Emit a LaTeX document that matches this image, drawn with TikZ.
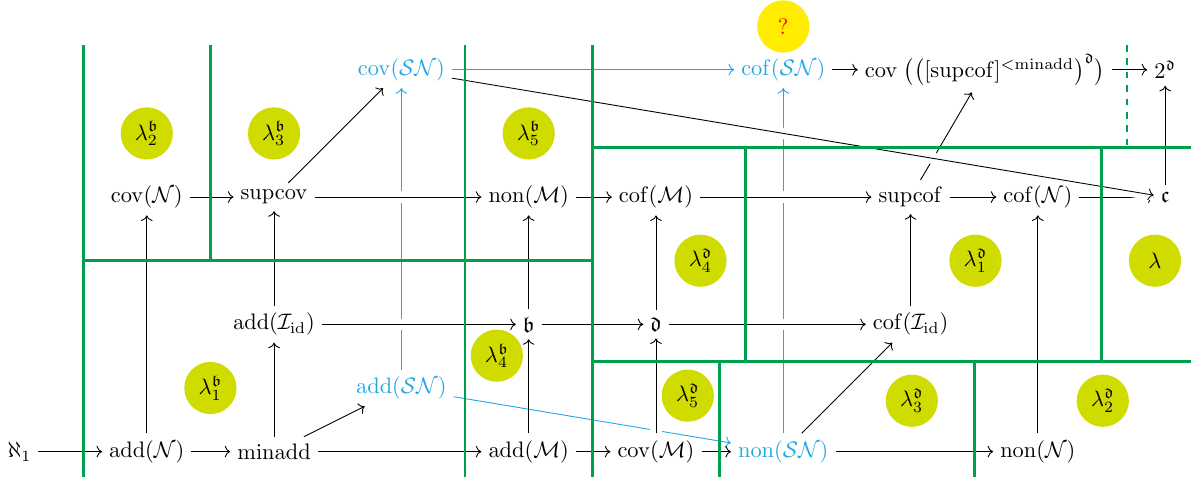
\documentclass[tikz,border=0pt]{standalone}
\usepackage{xcolor}
\usepackage{tikz}
\usepackage{amsmath,amssymb}
\usetikzlibrary{arrows.meta}
\definecolor{wallGreen}{HTML}{009F4D}
\definecolor{snBlue}{HTML}{22A7E6}
\definecolor{lamFill}{HTML}{D0DC00}
\definecolor{askFill}{HTML}{FFEC00}
\tikzset{
  val/.style={inner sep=3pt},
  snval/.style={val, text=snBlue},
  lam/.style={circle, fill=lamFill, minimum size=0.82cm, inner sep=0pt},
  ask/.style={lam, fill=askFill, text=red},
  arr/.style={->, >={To}},
  snarr/.style={arr, draw=snBlue},
  over/.style={preaction={-, draw=white, line width=5pt}},
  wall/.style={draw=wallGreen, line width=1.3pt}
}

\begin{document}
\begin{tikzpicture}[x=2cm,y=2cm]
  \useasboundingbox (-0.153,-0.227) rectangle (9.258,3.548);

  % bottom row
  \node[val] (aleph) at (0,0) {$\aleph_1$};
  \node[val] (addN) at (1,0) {$\mathrm{add}(\mathcal N)$};
  \node[val] (minadd) at (2,0) {$\mathrm{minadd}$};
  \node[snval] (addSN) at (3,0.5) {$\mathrm{add}(\mathcal{SN})$};
  \node[val] (addM) at (4,0) {$\mathrm{add}(\mathcal M)$};
  \node[val] (covM) at (5,0) {$\mathrm{cov}(\mathcal M)$};
  \node[snval] (nonSN) at (6,0) {$\mathrm{non}(\mathcal{SN})$};
  \node[val] (nonN) at (8,0) {$\mathrm{non}(\mathcal N)$};
  % second row
  \node[val] (addI) at (2,1) {$\mathrm{add}(\mathcal I_{\mathrm{id}})$};
  \node[val] (bb) at (4,1) {$\mathfrak b$};
  \node[val] (dd) at (5,1) {$\mathfrak d$};
  \node[val] (cofI) at (7,1) {$\mathrm{cof}(\mathcal I_{\mathrm{id}})$};
  % third row
  \node[val] (covN) at (1,2) {$\mathrm{cov}(\mathcal N)$};
  \node[val] (supcov) at (2,2) {$\mathrm{supcov}$};
  \node[val] (nonM) at (4,2) {$\mathrm{non}(\mathcal M)$};
  \node[val] (cofM) at (5,2) {$\mathrm{cof}(\mathcal M)$};
  \node[val] (supcof) at (7,2) {$\mathrm{supcof}$};
  \node[val] (cofN) at (8,2) {$\mathrm{cof}(\mathcal N)$};
  \node[val] (cc) at (9,2) {$\mathfrak c$};
  % top row
  \node[snval] (covSN) at (3,3) {$\mathrm{cov}(\mathcal{SN})$};
  \node[snval] (cofSN) at (6,3) {$\mathrm{cof}(\mathcal{SN})$};
  \node[val] (covsup) at (7.585,3)
    {$\mathrm{cov}\;\bigl(\bigl([\mathrm{supcof}]^{<\mathrm{minadd}}\bigr)^{\mathfrak d}\bigr)$};
  \node[val] (twod) at (9,3) {$2^{\mathfrak d}$};

  % strong measure zero arrows
  \draw[snarr] (covSN) -- (cofSN);
  \draw[snarr] (addSN) -- (covSN);
  \draw[snarr] (addSN) -- (nonSN);
  \draw[snarr] (nonSN) -- (cofSN);

  \draw[arr] (supcof) -- (covsup);
  \draw[arr] (cofN) -- (cc);

  % arrows crossing over others
  \draw[arr,over] (addI) -- (bb);
  \draw[arr,over] (supcov) -- (nonM);
  \draw[arr,over] (covM) -- (dd);
  \draw[arr,over] (dd) -- (cofI);
  \draw[arr,over] (cofM) -- (supcof);
  \draw[arr,over] (covSN) -- (cc);

  \draw[arr] (aleph) -- (addN);
  \draw[arr] (addN) -- (minadd);
  \draw[arr] (minadd) -- (addM);
  \draw[arr] (addM) -- (covM);
  \draw[arr] (covM) -- (nonSN);
  \draw[arr] (nonSN) -- (nonN);
  \draw[arr] (addN) -- (covN);
  \draw[arr] (minadd) -- (addI);
  \draw[arr] (minadd) -- (addSN);
  \draw[arr] (addI) -- (supcov);
  \draw[arr] (addM) -- (bb);
  \draw[arr] (bb) -- (nonM);
  \draw[arr] (bb) -- (dd);
  \draw[arr] (dd) -- (cofM);
  \draw[arr] (nonSN) -- (cofI);
  \draw[arr] (cofI) -- (supcof);
  \draw[arr] (nonN) -- (cofN);
  \draw[arr] (covN) -- (supcov);
  \draw[arr] (supcov) -- (covSN);
  \draw[arr] (nonM) -- (cofM);
  \draw[arr] (supcof) -- (cofN);
  \draw[arr] (cc) -- (twod);
  \draw[arr] (cofSN) -- (covsup);
  \draw[arr] (covsup) -- (twod);

  % walls
  \draw[wall] (0.5,3.196) -- (0.5,-0.196);
  \draw[wall] (1.5,3.196) -- (1.5,1.5);
  \draw[wall] (0.5,1.5) -- (4.5,1.5);
  \draw[wall] (3.5,3.196) -- (3.5,-0.196);
  \draw[wall] (4.5,3.196) -- (4.5,-0.196);
  \draw[wall] (4.5,2.389) -- (9.2,2.389);
  \draw[wall] (4.5,0.705) -- (9.2,0.705);
  \draw[wall] (5.7,2.389) -- (5.7,0.705);
  \draw[wall] (8.5,2.389) -- (8.5,0.705);
  \draw[wall] (5.5,0.705) -- (5.5,-0.196);
  \draw[wall] (7.5,0.705) -- (7.5,-0.196);
  \draw[wall,dashed] (8.7,3.196) -- (8.7,2.389);

  % cardinal invariants in the regions
  \node[lam] (lb1) at (1.5,0.5) {$\lambda^{\mathfrak b}_1$};
  \node[lam] (lb2) at (1,2.5) {$\lambda^{\mathfrak b}_2$};
  \node[lam] (lb3) at (2,2.5) {$\lambda^{\mathfrak b}_3$};
  \node[lam] (lb4) at (3.75,0.754) {$\lambda^{\mathfrak b}_4$};
  \node[lam] (lb5) at (4,2.5) {$\lambda^{\mathfrak b}_5$};
  \node[lam] (ld1) at (7.51,1.5) {$\lambda^{\mathfrak d}_1$};
  \node[lam] (ld2) at (8.51,0.4) {$\lambda^{\mathfrak d}_2$};
  \node[lam] (ld3) at (7.01,0.4) {$\lambda^{\mathfrak d}_3$};
  \node[lam] (ld4) at (5.35,1.5) {$\lambda^{\mathfrak d}_4$};
  \node[lam] (ld5) at (5.25,0.44) {$\lambda^{\mathfrak d}_5$};
  \node[lam] (lam) at (8.92,1.5) {$\lambda$};
  \node[ask] (ask) at (6,3.34) {?};
\end{tikzpicture}
\end{document}
